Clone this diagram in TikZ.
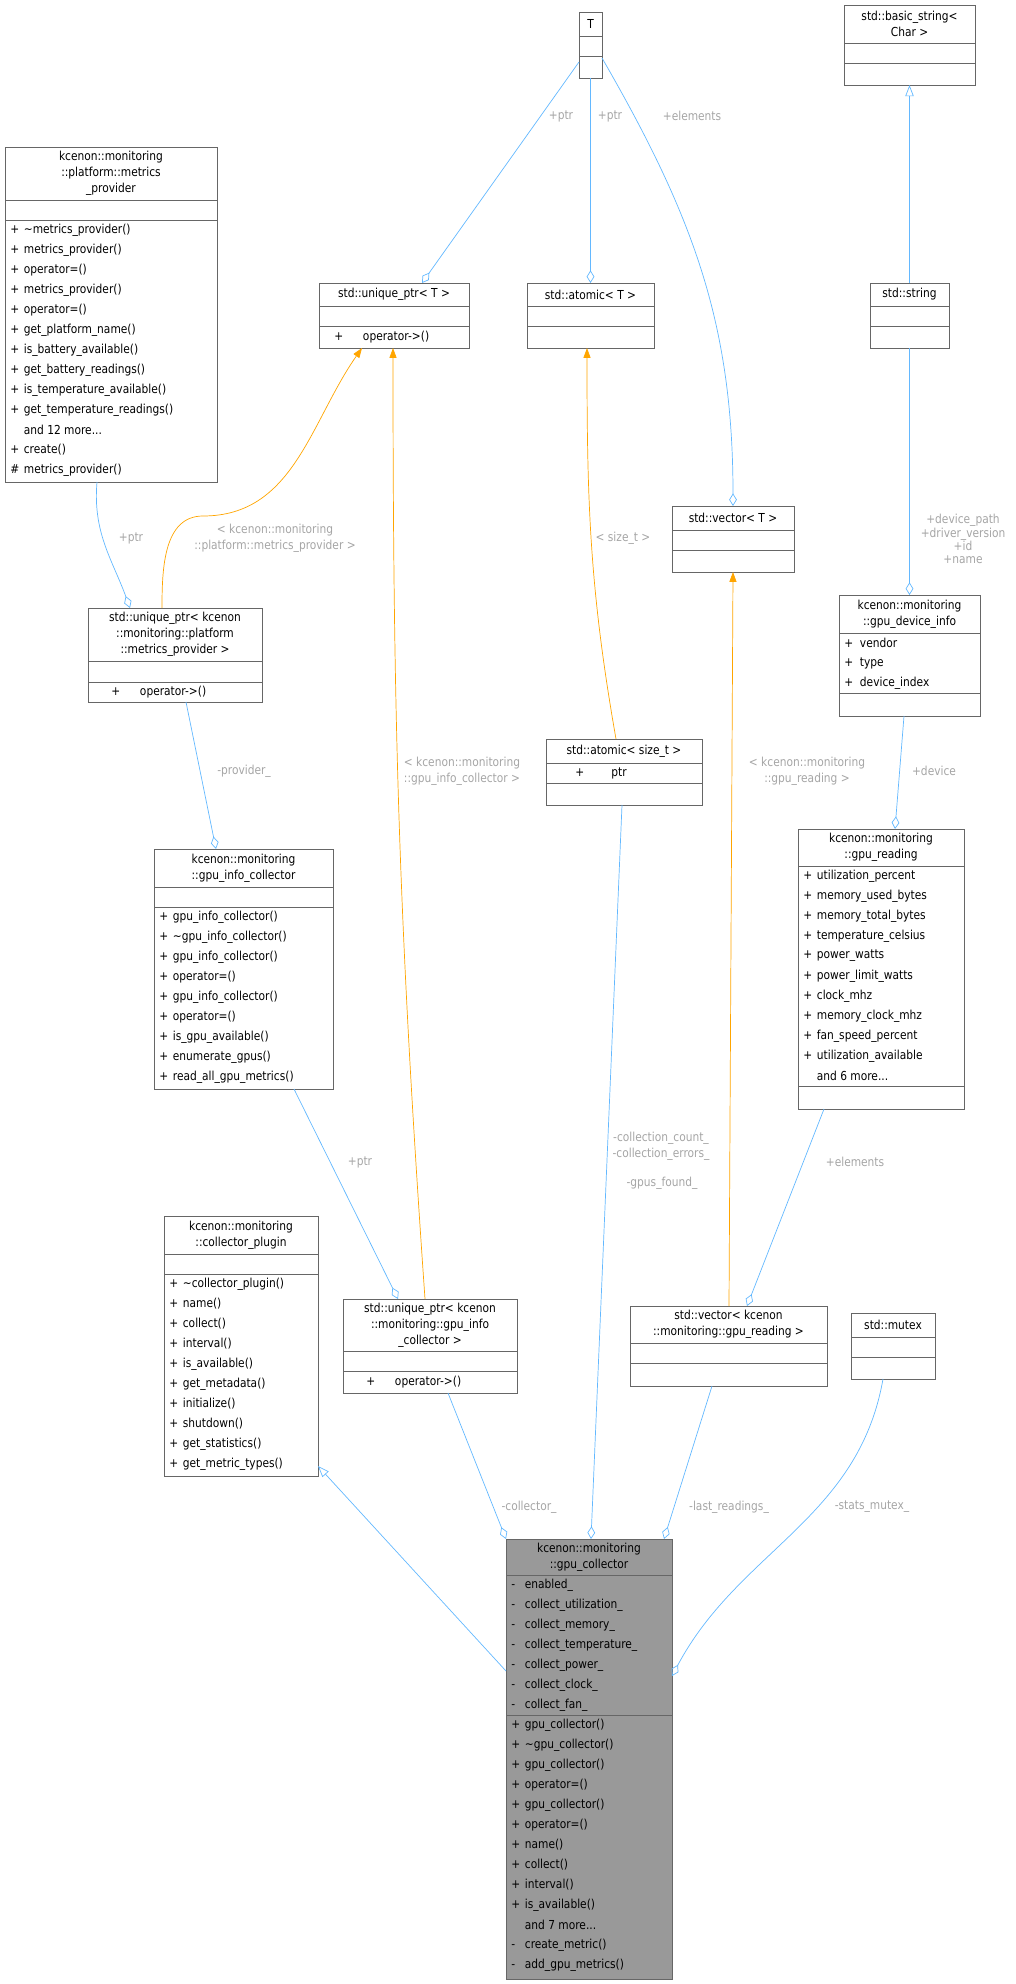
\documentclass[tikz,border=0pt]{standalone}
\usepackage{fontspec}
\setmainfont{DejaVu Sans}[FakeStretch=0.86]
\usetikzlibrary{arrows.meta,calc}

\definecolor{edgeblue}{RGB}{99,184,255}
\definecolor{edgeorange}{RGB}{255,165,0}
\definecolor{lblgray}{RGB}{165,165,165}
\definecolor{boxgray}{RGB}{102,102,102}

% one member line: visibility mark, then the name
\newcommand\mem[2]{\makebox[1.1em][l]{#1}#2}
% class box: x1,y1,x2,y2,name,extra style
\newcommand\cls[6]{%
  \node[box,#6,minimum width={(#3-#1)*0.025cm},minimum height={(#4-#2)*0.025cm}]
    (#5) at ({(#1+#3)/2},{(#2+#4)/2}) {};}
\newcommand\sep[3]{\draw[boxline] (#1,#3) -- (#2,#3);}
\newcommand\rows[3]{%
  \foreach \t [count=\i] in {#3} {\node[txt] at (#1+5,{#2+(\i-0.5)*20}) {\t};}}

\begin{document}
\begin{tikzpicture}[x=0.025cm,y=-0.025cm,
    font=\fontsize{8.8}{11.4}\selectfont,
    box/.style={draw=boxgray,fill=white,line width=0.6pt,inner sep=0pt,outer sep=0pt},
    boxline/.style={draw=boxgray,line width=0.6pt},
    txt/.style={anchor=west,inner sep=0pt},
    ttl/.style={align=center,inner sep=0pt},
    lbl/.style={text=lblgray,align=center,inner sep=0pt},
    agg/.style={draw=edgeblue,line width=0.5pt,-{Diamond[open,length=9pt,width=5.5pt]}},
    tmpl/.style={draw=edgeorange,line width=0.5pt,-{Triangle[length=7pt,width=5pt]}},
    inh/.style={draw=edgeblue,line width=0.5pt,-{Triangle[open,length=8pt,width=6pt]}}]
\useasboundingbox (0,0) rectangle (1016,1984);

% classes
\cls{579}{12}{602}{78}{T}{}
\sep{579}{602}{36}\sep{579}{602}{56}
\node[ttl] at (590.5,24) {T};

\cls{844}{5}{975}{85}{bstr}{}
\sep{844}{975}{43}\sep{844}{975}{63}
\node[ttl] at (909.5,24) {std::basic\_string<\\Char >};

\cls{5}{147}{217}{482}{mprov}{}
\sep{5}{217}{200}\sep{5}{217}{220}
\node[ttl] at (111,173) {kcenon::monitoring\\::platform::metrics\\\_provider};
\rows{5}{220}{{\mem{+}{\textasciitilde metrics\_provider()}},{\mem{+}{metrics\_provider()}},
  {\mem{+}{operator=()}},{\mem{+}{metrics\_provider()}},{\mem{+}{operator=()}},
  {\mem{+}{get\_platform\_name()}},{\mem{+}{is\_battery\_available()}},
  {\mem{+}{get\_battery\_readings()}},{\mem{+}{is\_temperature\_available()}},
  {\mem{+}{get\_temperature\_readings()}},{\mem{}{and 12 more...}},
  {\mem{+}{create()}},{\mem{\#}{metrics\_provider()}}}

\cls{319}{283}{469}{348}{uptrT}{}
\sep{319}{469}{306}\sep{319}{469}{326}
\node[ttl] at (394,294.5) {std::unique\_ptr< T >};
\node[txt] at (334,337) {+\hspace{1.6em}operator->()};

\cls{527}{283}{654}{348}{atomT}{}
\sep{527}{654}{306}\sep{527}{654}{326}
\node[ttl] at (590.5,294.5) {std::atomic< T >};

\cls{870}{283}{949}{348}{str}{}
\sep{870}{949}{306}\sep{870}{949}{326}
\node[ttl] at (909.5,294.5) {std::string};

\cls{672}{506}{794}{572}{vecT}{}
\sep{672}{794}{530}\sep{672}{794}{550}
\node[ttl] at (733,518) {std::vector< T >};

\cls{88}{608}{262}{702}{uptrP}{}
\sep{88}{262}{661}\sep{88}{262}{682}
\node[ttl] at (175,634.5) {std::unique\_ptr< kcenon\\::monitoring::platform\\::metrics\_provider >};
\node[txt] at (111,692) {+\hspace{1.6em}operator->()};

\cls{839}{595}{980}{716}{gdi}{}
\sep{839}{980}{633}\sep{839}{980}{693}
\node[ttl] at (909.5,614) {kcenon::monitoring\\::gpu\_device\_info};
\rows{839}{633}{{\mem{+}{\,vendor}},{\mem{+}{\,type}},{\mem{+}{\,device\_index}}}

\cls{546}{739}{702}{805}{atomS}{}
\sep{546}{702}{763}\sep{546}{702}{783}
\node[ttl] at (624,751) {std::atomic< size\_t >};
\node[txt] at (575,773) {+\hspace{2.2em}ptr};

\cls{154}{849}{333}{1089}{gic}{}
\sep{154}{333}{887}\sep{154}{333}{907}
\node[ttl] at (243.5,868) {kcenon::monitoring\\::gpu\_info\_collector};
\rows{154}{907}{{\mem{+}{gpu\_info\_collector()}},{\mem{+}{\textasciitilde gpu\_info\_collector()}},
  {\mem{+}{gpu\_info\_collector()}},{\mem{+}{operator=()}},{\mem{+}{gpu\_info\_collector()}},
  {\mem{+}{operator=()}},{\mem{+}{is\_gpu\_available()}},{\mem{+}{enumerate\_gpus()}},
  {\mem{+}{read\_all\_gpu\_metrics()}}}

\cls{798}{829}{964}{1109}{grd}{}
\sep{798}{964}{866}\sep{798}{964}{1086}
\node[ttl] at (881,847.5) {kcenon::monitoring\\::gpu\_reading};
\rows{798}{866}{{\mem{+}{utilization\_percent}},{\mem{+}{memory\_used\_bytes}},
  {\mem{+}{memory\_total\_bytes}},{\mem{+}{temperature\_celsius}},{\mem{+}{power\_watts}},
  {\mem{+}{power\_limit\_watts}},{\mem{+}{clock\_mhz}},{\mem{+}{memory\_clock\_mhz}},
  {\mem{+}{fan\_speed\_percent}},{\mem{+}{utilization\_available}},{\mem{}{and 6 more...}}}

\cls{164}{1216}{318}{1476}{cplug}{}
\sep{164}{318}{1254}\sep{164}{318}{1274}
\node[ttl] at (241,1235) {kcenon::monitoring\\::collector\_plugin};
\rows{164}{1274}{{\mem{+}{\textasciitilde collector\_plugin()}},{\mem{+}{name()}},{\mem{+}{collect()}},
  {\mem{+}{interval()}},{\mem{+}{is\_available()}},{\mem{+}{get\_metadata()}},
  {\mem{+}{initialize()}},{\mem{+}{shutdown()}},{\mem{+}{get\_statistics()}},
  {\mem{+}{get\_metric\_types()}}}

\cls{343}{1299}{517}{1393}{uptrG}{}
\sep{343}{517}{1351}\sep{343}{517}{1371}
\node[ttl] at (430,1325) {std::unique\_ptr< kcenon\\::monitoring::gpu\_info\\\_collector >};
\node[txt] at (366,1382) {+\hspace{1.6em}operator->()};

\cls{630}{1306}{827}{1386}{vecG}{}
\sep{630}{827}{1343}\sep{630}{827}{1363}
\node[ttl] at (728.5,1324.5) {std::vector< kcenon\\::monitoring::gpu\_reading >};

\cls{851}{1313}{935}{1379}{mtx}{}
\sep{851}{935}{1337}\sep{851}{935}{1357}
\node[ttl] at (893,1325) {std::mutex};

\cls{506}{1539}{672}{1979}{gcol}{fill={rgb,255:red,153;green,153;blue,153}}
\sep{506}{672}{1575}\sep{506}{672}{1715}
\node[ttl] at (589,1557) {kcenon::monitoring\\::gpu\_collector};
\rows{506}{1575}{{\mem{-}{enabled\_}},{\mem{-}{collect\_utilization\_}},{\mem{-}{collect\_memory\_}},
  {\mem{-}{collect\_temperature\_}},{\mem{-}{collect\_power\_}},{\mem{-}{collect\_clock\_}},
  {\mem{-}{collect\_fan\_}}}
\rows{506}{1715}{{\mem{+}{gpu\_collector()}},{\mem{+}{\textasciitilde gpu\_collector()}},
  {\mem{+}{gpu\_collector()}},{\mem{+}{operator=()}},{\mem{+}{gpu\_collector()}},
  {\mem{+}{operator=()}},{\mem{+}{name()}},{\mem{+}{collect()}},{\mem{+}{interval()}},
  {\mem{+}{is\_available()}},{\mem{}{and 7 more...}},{\mem{-}{create\_metric()}},
  {\mem{-}{add\_gpu\_metrics()}}}

% connectors
\draw[agg] ($(T.north west)+(0,50)$) -- ($(uptrT.north west)+(103,0)$);
\draw[agg] (T.south) -- (atomT.north);
\draw[agg] ($(T.north east)+(0,46)$) to[out=-60,in=90] (vecT.north);
\draw[inh] (str.north) -- (bstr.south);
\draw[agg] (str.south) -- (gdi.north);
\draw[agg] ($(mprov.south west)+(92,0)$) to[out=-95,in=110] ($(uptrP.north west)+(42,0)$);
\draw[tmpl] ($(uptrP.north west)+(74,0)$) to[out=90,in=180] ($(uptrP.north west)+(115,-92)$)
  to[out=0,in=-125] ($(uptrT.south west)+(43,0)$);
\draw[tmpl] ($(uptrG.north west)+(82,0)$) to[out=94,in=-90] ($(uptrT.south west)+(74,0)$);
\draw[tmpl] ($(atomS.north west)+(70,0)$) to[out=100,in=-90] ($(atomT.south west)+(60,0)$);
\draw[tmpl] ($(vecG.north west)+(99,0)$) -- (vecT.south);
\draw[agg] ($(uptrP.south west)+(98,0)$) -- ($(gic.north west)+(62,0)$);
\draw[agg] ($(gdi.south west)+(65,0)$) -- ($(grd.north west)+(97,0)$);
\draw[agg] ($(gic.south west)+(140,0)$) -- ($(uptrG.north west)+(55,0)$);
\draw[agg] ($(grd.south west)+(26,0)$) -- ($(vecG.north west)+(117,0)$);
\draw[agg] ($(atomS.south west)+(76,0)$) -- ($(gcol.north west)+(85,0)$);
\draw[agg] ($(uptrG.south west)+(105,0)$) -- (gcol.north west);
\draw[agg] ($(vecG.south west)+(82,0)$) -- ($(gcol.north west)+(158,0)$);
\draw[agg] ($(mtx.south west)+(32,0)$) to[out=-100,in=62] ($(gcol.north east)+(0,137)$);
\draw[inh] ($(gcol.north west)+(0,132)$) -- ($(cplug.south east)+(0,-10)$);

% connector labels
\node[lbl] (lPtrU) at (561,116) {+ptr};
\node[lbl] (lPtrA) at (610,116) {+ptr};
\node[lbl] (lElemT) at (692,116) {+elements};
\node[lbl] (lDevInfo) at (963,539) {+device\_path\\[-2pt]+driver\_version\\[-2pt]+id\\[-2pt]+name};
\node[lbl] (lPtrP) at (131,538) {+ptr};
\node[lbl] (lProvT) at (275,538) {< kcenon::monitoring\\::platform::metrics\_provider >};
\node[lbl] (lSize) at (623,538) {< size\_t >};
\node[lbl] (lGicT) at (462,771) {< kcenon::monitoring\\::gpu\_info\_collector >};
\node[lbl] (lReadT) at (807,771) {< kcenon::monitoring\\::gpu\_reading >};
\node[lbl] (lProv) at (244,771) {-provider\_};
\node[lbl] (lDev) at (934,771) {+device};
\node[lbl] (lPtrG) at (360,1162) {+ptr};
\node[lbl] (lElemR) at (855,1162) {+elements};
\node[lbl] (lCount) at (661,1146) {-collection\_count\_\\-collection\_errors\_};
\node[lbl] (lGpus) at (662,1183) {-gpus\_found\_};
\node[lbl] (lColl) at (529,1507) {-collector\_};
\node[lbl] (lLast) at (729,1507) {-last\_readings\_};
\node[lbl] (lMutex) at (872,1507) {-stats\_mutex\_};
\end{tikzpicture}
\end{document}
